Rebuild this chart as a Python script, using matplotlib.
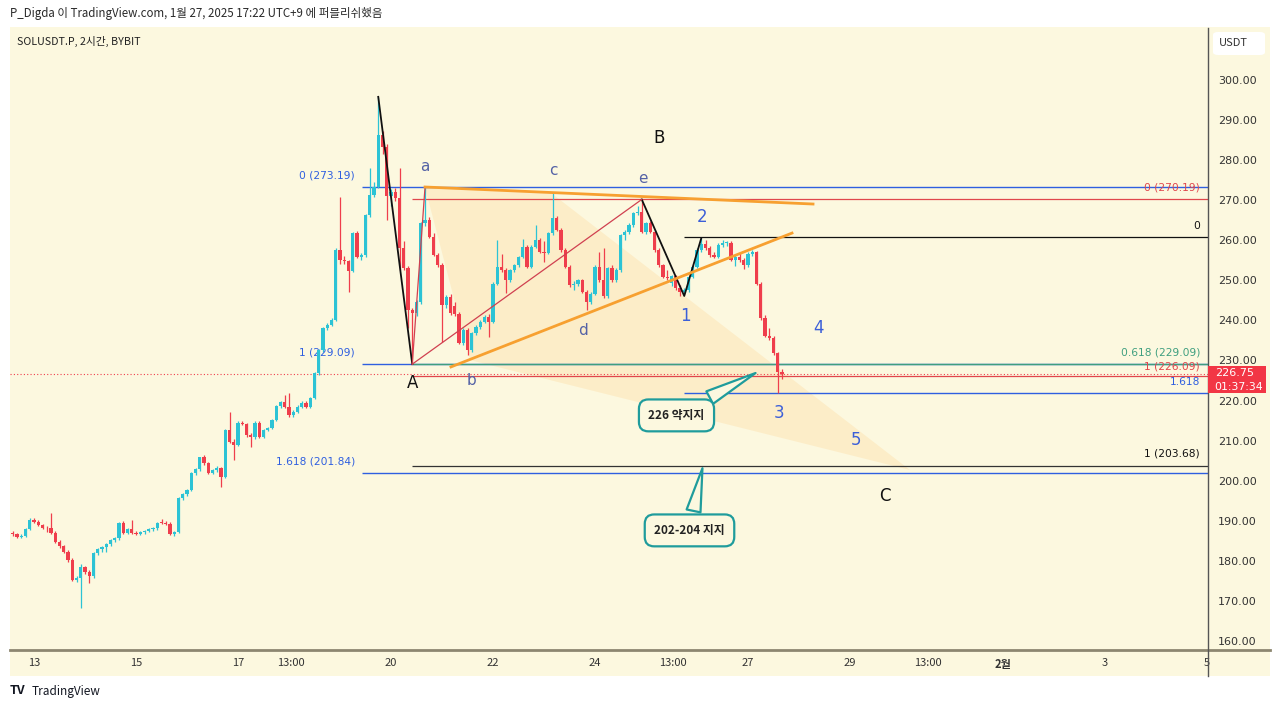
import numpy as np
import matplotlib
matplotlib.use("Agg")
import matplotlib.pyplot as plt
from matplotlib.patches import Rectangle, Polygon, FancyBboxPatch
from matplotlib.lines import Line2D

plt.rcParams['font.family'] = ['Noto Sans CJK KR', 'DejaVu Sans']

# ---------------- data (SOLUSDT.P, 2h candles, from Jan 12 14:00) ----------------
opens = [187.0,186.6,186.0,186.3,187.9,190.3,189.8,188.9,188.3,188.1,
         187.0,184.8,183.7,182.3,180.2,175.2,175.6,178.4,177.2,176.2,
         181.9,182.9,183.5,184.2,185.2,185.6,189.5,187.0,187.9,186.9,
         186.7,187.2,187.5,187.9,188.1,189.5,189.4,189.2,186.7,187.2,
         195.6,196.7,197.7,201.8,202.8,205.8,204.3,202.0,202.6,203.1,
         201.0,212.7,209.7,208.9,214.5,214.1,211.4,211.0,214.5,211.0,
         212.7,213.1,215.2,218.6,219.7,218.5,216.4,217.2,218.5,219.5,
         218.5,220.6,226.8,232.6,238.0,238.9,240.1,257.6,255.2,254.8,
         252.4,261.7,255.9,256.3,266.3,271.3,273.4,286.3,283.4,271.0,
         272.0,270.5,258.0,253.0,242.6,241.8,244.6,264.2,265.0,260.9,
         256.3,253.8,243.9,245.9,243.5,241.6,234.3,237.6,232.6,236.8,
         238.4,239.7,240.9,239.7,249.2,253.4,252.6,250.1,252.6,253.8,
         255.9,258.4,253.4,258.4,260.1,257.2,256.9,261.7,265.5,262.6,
         257.6,253.4,248.8,249.2,250.0,247.2,244.7,246.7,253.4,250.1,
         246.0,253.0,250.1,252.6,261.3,262.0,263.8,266.7,267.1,262.1,
         264.2,262.1,257.6,253.8,250.9,249.4,251.0,248.0,247.2,247.6,
         250.9,253.4,257.6,259.0,258.0,256.3,255.9,258.8,259.3,259.4,
         255.1,255.9,255.1,253.8,256.7,257.2,249.2,240.5,236.2,235.5,
         231.8,227.2]
highs = [187.4,187.0,186.6,188.2,190.6,190.8,190.2,189.3,188.6,192.0,
         187.4,185.2,184.0,182.6,180.6,176.2,179.2,178.8,177.6,182.2,
         183.2,183.8,184.5,185.5,185.9,189.8,189.9,188.2,190.2,187.5,
         187.5,187.8,188.2,188.4,189.8,190.4,190.0,189.6,187.5,195.9,
         197.0,198.0,202.1,203.1,206.0,206.3,204.6,202.9,203.6,203.4,
         213.0,217.2,210.5,214.8,215.0,214.5,211.8,214.8,214.9,213.0,
         213.5,215.5,219.0,220.0,221.5,221.8,217.6,218.8,219.8,219.9,
         220.9,227.1,232.9,238.3,239.3,240.5,258.0,270.9,256.0,255.2,
         262.0,262.3,256.8,266.6,278.0,274.5,295.8,287.2,284.0,272.8,
         273.0,278.0,259.8,253.5,243.2,245.0,264.5,273.2,265.8,261.8,
         256.8,254.3,246.4,246.5,244.5,242.0,238.0,238.0,237.2,238.8,
         240.0,241.4,241.6,249.5,260.0,256.5,253.0,252.9,254.2,256.2,
         260.2,258.8,258.8,263.8,260.5,259.8,262.0,271.7,266.0,263.0,
         258.0,253.8,249.8,250.4,250.4,247.6,247.1,253.8,257.0,258.0,
         253.4,253.8,253.0,261.6,262.5,264.2,267.0,268.6,270.2,264.6,
         264.8,262.5,258.0,254.2,252.6,251.3,251.3,248.8,248.0,251.2,
         253.8,258.0,260.6,260.0,258.5,257.0,259.2,260.0,259.9,259.7,
         256.3,257.0,255.5,257.0,257.6,257.4,249.6,241.3,238.0,236.0,
         232.2,228.0]
lows = [186.3,185.6,185.6,186.0,187.6,189.5,188.6,188.0,187.2,186.8,
        184.5,183.3,182.0,179.8,175.0,174.6,168.3,176.6,174.4,175.8,
        181.4,182.2,182.3,183.8,184.8,185.3,186.8,186.6,186.6,186.4,
        186.4,186.8,187.1,187.5,187.8,189.1,188.9,186.4,186.2,186.9,
        195.2,196.3,197.4,201.4,202.4,203.9,201.6,201.7,202.2,198.5,
        200.6,209.4,205.2,208.6,213.8,211.0,208.5,210.5,210.6,210.6,
        212.3,212.8,214.9,218.2,218.2,216.0,216.0,216.9,218.2,218.1,
        218.2,220.3,226.4,232.2,237.6,238.5,239.8,254.0,254.2,247.2,
        252.0,255.6,255.2,255.9,265.8,270.8,273.0,281.5,265.0,268.5,
        269.8,252.6,252.5,238.0,229.1,241.2,244.0,263.5,260.5,256.0,
        253.4,234.7,243.0,241.3,241.0,234.0,233.8,231.4,232.0,236.3,
        237.8,239.3,235.9,239.3,248.8,252.2,246.8,249.7,252.2,253.4,
        255.5,253.0,253.0,258.0,256.8,254.5,256.5,261.3,262.2,257.2,
        253.0,248.4,247.6,248.5,246.8,242.5,244.2,246.3,249.7,245.5,
        245.6,249.7,249.7,252.2,260.0,261.5,263.4,266.2,261.8,261.6,
        261.7,257.2,253.4,250.5,250.1,248.6,247.6,246.1,246.6,247.2,
        250.5,253.0,257.2,257.6,255.9,255.5,255.5,258.4,258.6,254.8,
        253.5,254.7,252.8,253.4,256.2,248.8,240.1,235.8,235.0,231.4,
        222.0,225.4]
closes = [186.6,186.0,186.3,187.9,190.3,189.8,188.9,188.3,188.1,187.0,
          184.8,183.7,182.3,180.2,175.2,175.6,178.4,177.2,176.2,181.9,
          182.9,183.5,184.2,185.2,185.6,189.5,187.0,187.9,186.9,186.7,
          187.2,187.5,187.9,188.1,189.5,189.4,189.2,186.7,187.2,195.6,
          196.7,197.7,201.8,202.8,205.8,204.3,202.0,202.6,203.1,201.0,
          212.7,209.7,208.9,214.5,214.1,211.4,211.0,214.5,211.0,212.7,
          213.1,215.2,218.6,219.7,218.5,216.4,217.2,218.5,219.5,218.5,
          220.6,226.8,232.6,238.0,238.9,240.1,257.6,255.2,254.8,252.4,
          261.7,255.9,256.3,266.3,271.3,273.4,286.3,283.4,271.0,272.0,
          270.5,258.0,253.0,242.6,241.8,244.6,264.2,265.0,260.9,256.3,
          253.8,243.9,245.9,241.8,241.6,234.3,237.6,232.6,236.8,238.4,
          239.7,240.9,239.7,249.2,253.4,252.6,250.1,252.6,253.8,255.9,
          258.4,253.4,258.4,260.1,257.2,256.9,261.7,265.5,262.6,257.6,
          253.4,248.8,249.2,250.0,247.2,244.7,246.7,253.4,250.1,246.0,
          253.0,250.1,252.6,261.3,262.0,263.8,266.7,267.1,262.1,264.2,
          262.1,257.6,253.8,250.9,250.5,251.0,248.0,247.2,247.6,250.9,
          253.4,257.6,259.0,258.0,256.3,255.9,258.8,259.3,259.4,255.1,
          255.9,255.1,253.8,256.7,257.2,249.2,240.5,236.2,235.5,231.8,
          227.2,226.75]
last_price = 226.75

start_day = 12 + 14 / 24.0          # Jan 12, 14:00
bar_days = 2 / 24.0

# axis ticks
price_ticks = [160, 170, 180, 190, 200, 210, 220, 230, 240, 250, 260, 270, 280, 290, 300]
x_tick_days = [13, 15, 17, 18.04, 20, 22, 24, 25.53, 27, 29, 30.53, 32, 34, 36]
x_tick_labels = ["13", "15", "17", "13:00", "20", "22", "24", "13:00", "27", "29", "13:00", "2월", "3", "5"]

# fib levels
blue_fib = [273.19, 229.09, 201.84]
blue_fib_labels = ["0 (273.19)", "1 (229.09)", "1.618 (201.84)"]
red_fib = [270.19, 226.09]
red_fib_labels = ["0 (270.19)", "1 (226.09)"]
green_fib = [229.09]
black_levels = [260.8, 203.68]
blue2_levels = [221.9]

# ---------------- figure ----------------
W, H = 1280, 709
BG = '#fcf8df'
CUP = '#2cc3d5'
CDN = '#ef3e4c'
BLUE = '#2f5fe0'
RED = '#e0474c'
GREEN = '#3f9f7f'
ORANGE = '#f7a030'
TEAL = '#1f9c9c'
SLATE = '#5462a6'
NUMB = '#3c5fd8'

fig = plt.figure(figsize=(12.8, 7.09), dpi=100)
fig.patch.set_facecolor('white')
fig.add_artist(Rectangle((10 / W, 1 - 676 / H), 1260 / W, 649 / H,
                         transform=fig.transFigure, fc=BG, ec='none', zorder=0))

ax = fig.add_axes([10 / W, 1 - 650 / H, 1198 / W, 622 / H])
ax.set_facecolor(BG)
XMIN, XMAX = 12.5294, 36.0196
YMIN, YMAX = 157.75, 312.98
ax.set_xlim(XMIN, XMAX)
ax.set_ylim(YMIN, YMAX)
for s in ax.spines.values():
    s.set_visible(False)

o = np.array(opens); h = np.array(highs); l = np.array(lows); c = np.array(closes)
t = start_day + np.arange(len(c)) * bar_days
up = c >= o
cols = np.where(up, CUP, CDN)
h = np.maximum(h, np.maximum(o, c)); l = np.minimum(l, np.minimum(o, c))

# shading (triangle pattern)
tri_a = (20.667, 273.19); tri_b = (21.55, 230.1); tri_c = (23.15, 271.7); tri_d = (30.176, 202.67)
ax.add_patch(Polygon([tri_a, tri_b, tri_c], closed=True, fc='#ffb347', alpha=0.15, ec='none', zorder=1))
ax.add_patch(Polygon([tri_c, tri_b, tri_d], closed=True, fc='#ffb347', alpha=0.15, ec='none', zorder=1))

# candles
ax.vlines(t, l, h, colors=cols, lw=0.9, zorder=3)
body = np.maximum(np.abs(c - o), 0.2)
ax.bar(t, body, bottom=np.minimum(o, c), width=bar_days * 0.72, color=cols, lw=0, zorder=4)

# fib / horizontal lines
k_A = 94; k_e = 148; k_1 = 158
for lv, lab in zip(blue_fib, blue_fib_labels):
    ax.hlines(lv, 19.431, XMAX, colors=BLUE, lw=1.0, zorder=2)
    ax.text(19.294, lv + 2.9, lab, color=BLUE, fontsize=7.7, ha='right', va='center',
            family=['DejaVu Sans'])
for lv, lab, dy in zip(red_fib, red_fib_labels, [3.1, 2.5]):
    ax.hlines(lv, t[k_A], XMAX, colors=RED, lw=0.9, zorder=2)
    ax.text(35.863, lv + dy, lab, color=RED, fontsize=7.7, ha='right', va='center', family=['DejaVu Sans'])
ax.hlines(green_fib[0], t[k_A], XMAX, colors=GREEN, lw=1.0, zorder=2)
ax.text(35.863, green_fib[0] + 3.0, "0.618 (229.09)", color=GREEN, fontsize=7.7, ha='right', va='center',
        family=['DejaVu Sans'])
ax.hlines(black_levels[0], t[k_1], XMAX, colors='#111111', lw=0.9, zorder=2)
ax.text(35.863, black_levels[0] + 2.8, "0", color='#111111', fontsize=7.7, ha='right', va='center',
        family=['DejaVu Sans'])
ax.hlines(black_levels[1], t[k_A], XMAX, colors='#333333', lw=0.9, zorder=2)
ax.text(35.863, black_levels[1] + 3.0, "1 (203.68)", color='#111111', fontsize=7.7, ha='right', va='center',
        family=['DejaVu Sans'])
ax.hlines(blue2_levels[0], t[k_1], XMAX, colors=BLUE, lw=1.0, zorder=2)
ax.text(35.863, blue2_levels[0] + 2.7, "1.618", color=BLUE, fontsize=7.7, ha='right', va='center',
        family=['DejaVu Sans'])

# current price dotted line
ax.axhline(last_price, color=CDN, lw=0.8, ls=(0, (1, 2)), zorder=2)

# trend lines
ax.plot([t[86], t[k_A]], [h[86], 229.09], color='#111111', lw=1.3, zorder=5)
ax.plot([t[k_e], t[k_1], t[162]], [270.19, 246.1, 260.5], color='#111111', lw=1.3, zorder=5)
ax.plot([t[k_A], 20.667], [229.09, 273.19], color='#d04050', lw=0.9, zorder=5)
ax.plot([t[k_A], t[k_e]], [229.09, 270.19], color='#d04050', lw=0.9, zorder=5)
ax.plot([20.667, 28.275], [273.3, 269.05], color=ORANGE, lw=2.0, zorder=5)
ax.plot([21.176, 27.863], [228.4, 261.8], color=ORANGE, lw=2.0, zorder=5)

# wave labels
for txt, x, y in [("a", 20.667, 278.3), ("c", 23.176, 277.3), ("e", 24.94, 275.3),
                  ("b", 21.588, 225.0), ("d", 23.765, 237.5)]:
    ax.text(x, y, txt, color=SLATE, fontsize=11, ha='center', va='center', family=['DejaVu Sans'])
for txt, x, y in [("A", 20.431, 224.3), ("B", 25.255, 285.6), ("C", 29.686, 196.3)]:
    ax.text(x, y, txt, color='#111111', fontsize=12, ha='center', va='center', family=['DejaVu Sans'])
for txt, x, y in [("1", 25.765, 241.1), ("2", 26.098, 265.8), ("3", 27.608, 217.0),
                  ("4", 28.373, 238.1), ("5", 29.118, 210.2)]:
    ax.text(x, y, txt, color=NUMB, fontsize=12, ha='center', va='center', family=['DejaVu Sans'])

# callouts
for txt, tip, box in [("226 약지지", (27.196, 227.2), (25.598, 216.3)),
                      ("202-204 지지", (26.118, 203.8), (25.853, 187.6))]:
    ax.annotate(txt, xy=tip, xytext=box, textcoords='data', ha='center', va='center',
                fontsize=8.5, fontweight='bold', color='#222222', zorder=8,
                bbox=dict(boxstyle='round,pad=0.8,rounding_size=0.8', fc=BG, ec=TEAL, lw=1.6),
                arrowprops=dict(arrowstyle='wedge,tail_width=1.2,shrink_factor=0.5', fc=BG, ec=TEAL, lw=1.6))

# axes ticks
ax.yaxis.tick_right()
ax.set_yticks(price_ticks)
ax.set_yticklabels([f"{v:.2f}" for v in price_ticks], family=['DejaVu Sans'])
ax.tick_params(axis='y', length=0, pad=7, labelsize=8, labelcolor='#333333')
ax.set_xticks(x_tick_days)
ax.set_xticklabels(x_tick_labels)
ax.tick_params(axis='x', length=0, pad=6, labelsize=8, labelcolor='#333333')
for lab in ax.get_xticklabels():
    if lab.get_text() == "2월":
        lab.set_fontweight('bold')

# frame lines
fig.add_artist(Line2D([10 / W, 1270 / W], [1 - 650 / H, 1 - 650 / H], transform=fig.transFigure,
                      color='#8c8670', lw=2.0, zorder=6))
fig.add_artist(Line2D([1208 / W, 1208 / W], [1 - 28 / H, 1 - 676 / H], transform=fig.transFigure,
                      color='#555555', lw=1.0, zorder=6))

# USDT box
fig.add_artist(FancyBboxPatch((1213 / W, 1 - 55 / H), 52 / W, 23 / H, transform=fig.transFigure,
                              boxstyle='round,pad=0,rounding_size=0.004', fc='white', ec='none', zorder=6))
fig.text(1219 / W, 1 - 43 / H, "USDT", fontsize=8, color='#333333', va='center', zorder=7)

# last price box
fig.add_artist(Rectangle((1208 / W, 1 - 393 / H), 58 / W, 27 / H, transform=fig.transFigure,
                         fc='#f23645', ec='none', zorder=6))
fig.text(1215 / W, 1 - 373 / H, f"{last_price:.2f}", fontsize=8, color='white', va='center', zorder=7,
         family=['DejaVu Sans'])
fig.text(1214 / W, 1 - 387 / H, "01:37:34", fontsize=7.8, color='white', va='center', zorder=7,
         family=['DejaVu Sans'])

# header / footer
fig.text(10 / W, 1 - 13 / H, "P_Digda 이 TradingView.com, 1월 27, 2025 17:22 UTC+9 에 퍼블리쉬했음",
         fontsize=8.3, color='#2a2a2a', va='center')
fig.text(17 / W, 1 - 41 / H, "SOLUSDT.P, 2시간, BYBIT", fontsize=7.7, color='#222222', va='center')
fig.text(10 / W, 1 - 691 / H, "TV", fontsize=9, fontweight='bold', color='#131722', va='center')
fig.text(32 / W, 1 - 691 / H, "TradingView", fontsize=8.5, color='#131722', va='center')

fig.savefig("out.png", dpi=100, facecolor='white')
